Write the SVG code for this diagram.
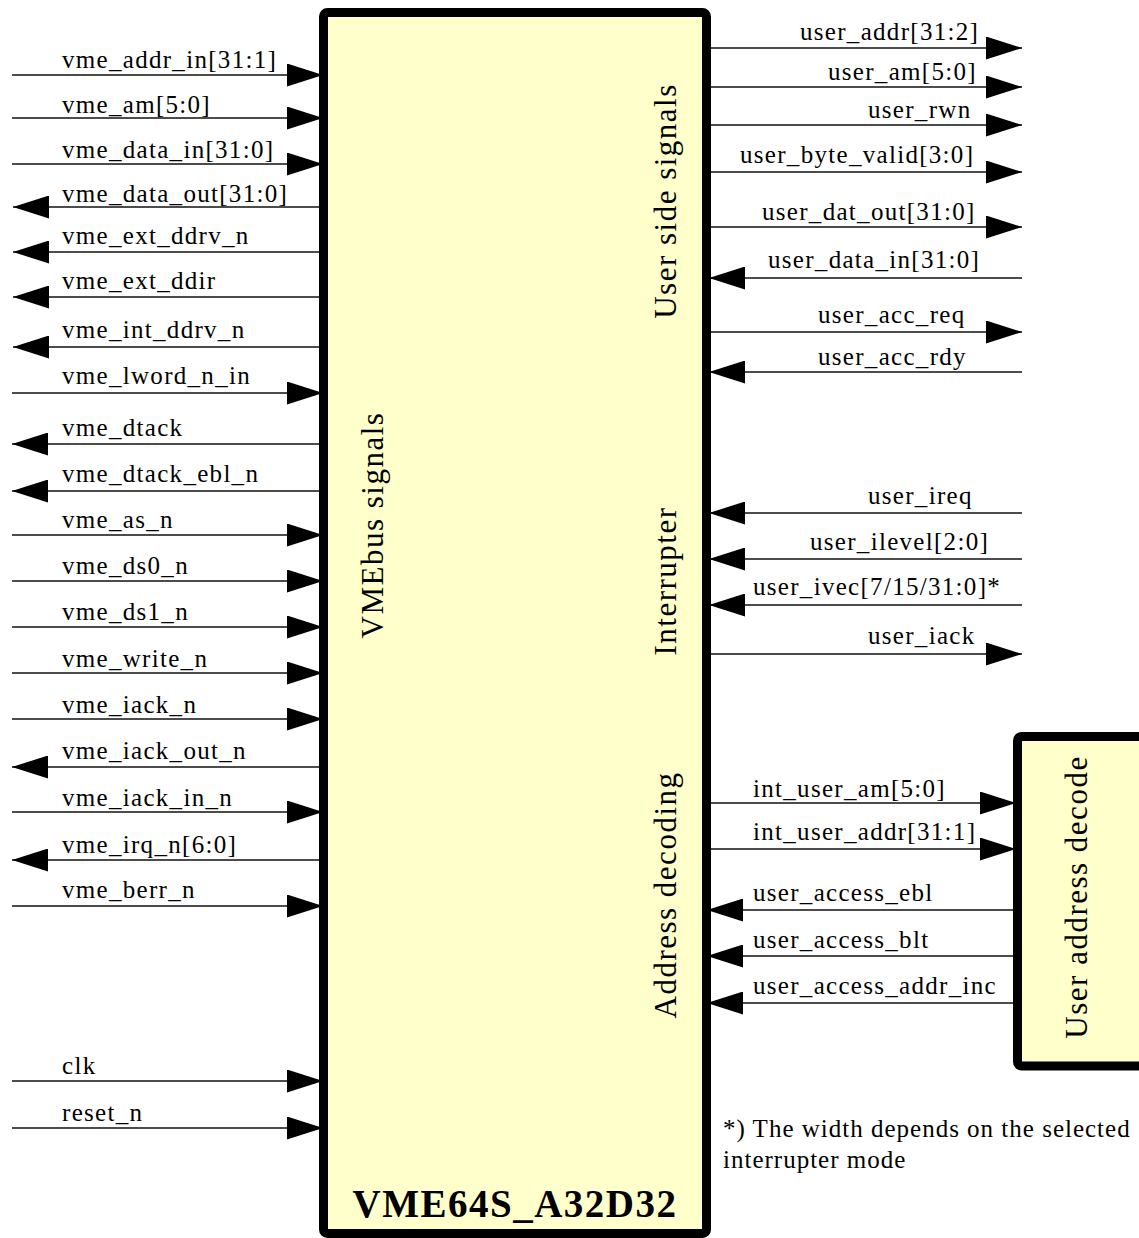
<svg xmlns="http://www.w3.org/2000/svg" width="1139" height="1238" viewBox="0 0 1139 1238">
<style>
.box{fill:#FFFFCC;stroke:#000;stroke-width:9}
.c{stroke:#111;stroke-width:1.3;fill:none;marker-end:url(#ah)}
.t{font-family:"Liberation Serif","Times New Roman",serif;font-size:25px;letter-spacing:1.3px;fill:#000}
.f{letter-spacing:1px}
.r{font-family:"Liberation Serif","Times New Roman",serif;font-size:31px;letter-spacing:1.5px;fill:#000;text-anchor:middle}
.b{font-family:"Liberation Serif","Times New Roman",serif;font-size:39px;font-weight:bold;letter-spacing:1.5px;fill:#000;text-anchor:middle}
</style>
<defs>
<marker id="ah" markerUnits="userSpaceOnUse" markerWidth="36" markerHeight="23" refX="36" refY="11.5" orient="auto" viewBox="0 0 36 23">
<path d="M0,0 L36,11.5 L0,23 z" fill="#000"/>
</marker>
</defs>
<rect width="1139" height="1238" fill="#fff"/>
<g id="connectors">
<line class="c" x1="12" y1="75" x2="323" y2="75"/>
<line class="c" x1="12" y1="118" x2="323" y2="118"/>
<line class="c" x1="12" y1="164" x2="323" y2="164"/>
<line class="c" x1="320" y1="207" x2="13" y2="207"/>
<line class="c" x1="320" y1="252" x2="13" y2="252"/>
<line class="c" x1="320" y1="297" x2="13" y2="297"/>
<line class="c" x1="320" y1="347" x2="13" y2="347"/>
<line class="c" x1="12" y1="393" x2="323" y2="393"/>
<line class="c" x1="320" y1="444" x2="12" y2="444"/>
<line class="c" x1="320" y1="491" x2="12" y2="491"/>
<line class="c" x1="12" y1="535" x2="323" y2="535"/>
<line class="c" x1="12" y1="581" x2="323" y2="581"/>
<line class="c" x1="12" y1="627" x2="323" y2="627"/>
<line class="c" x1="12" y1="673" x2="323" y2="673"/>
<line class="c" x1="12" y1="719" x2="323" y2="719"/>
<line class="c" x1="320" y1="767" x2="12" y2="767"/>
<line class="c" x1="12" y1="812" x2="323" y2="812"/>
<line class="c" x1="320" y1="860" x2="12" y2="860"/>
<line class="c" x1="12" y1="906" x2="323" y2="906"/>
<line class="c" x1="12" y1="1081" x2="323" y2="1081"/>
<line class="c" x1="12" y1="1128" x2="323" y2="1128"/>

<line class="c" x1="707" y1="48" x2="1022" y2="48"/>
<line class="c" x1="707" y1="87" x2="1022" y2="87"/>
<line class="c" x1="707" y1="125" x2="1022" y2="125"/>
<line class="c" x1="707" y1="172" x2="1022" y2="172"/>
<line class="c" x1="707" y1="227" x2="1022" y2="227"/>
<line class="c" x1="1022" y1="278" x2="709" y2="278"/>
<line class="c" x1="707" y1="332" x2="1022" y2="332"/>
<line class="c" x1="1022" y1="372" x2="709" y2="372"/>
<line class="c" x1="1022" y1="513" x2="709" y2="513"/>
<line class="c" x1="1022" y1="559" x2="709" y2="559"/>
<line class="c" x1="1022" y1="605" x2="709" y2="605"/>
<line class="c" x1="707" y1="654" x2="1022" y2="654"/>

<line class="c" x1="707" y1="803" x2="1016" y2="803"/>
<line class="c" x1="707" y1="849" x2="1016" y2="849"/>
<line class="c" x1="1014" y1="910" x2="707" y2="910"/>
<line class="c" x1="1014" y1="956" x2="707" y2="956"/>
<line class="c" x1="1014" y1="1003" x2="707" y2="1003"/>
</g>
<g id="connector-labels">
<text class="t" x="62" y="68">vme_addr_in[31:1]</text>
<text class="t" x="62" y="113">vme_am[5:0]</text>
<text class="t" x="62" y="158">vme_data_in[31:0]</text>
<text class="t" x="62" y="202">vme_data_out[31:0]</text>
<text class="t" x="62" y="244">vme_ext_ddrv_n</text>
<text class="t" x="62" y="289">vme_ext_ddir</text>
<text class="t" x="62" y="338">vme_int_ddrv_n</text>
<text class="t" x="62" y="384">vme_lword_n_in</text>
<text class="t" x="62" y="436">vme_dtack</text>
<text class="t" x="62" y="482">vme_dtack_ebl_n</text>
<text class="t" x="62" y="528">vme_as_n</text>
<text class="t" x="62" y="574">vme_ds0_n</text>
<text class="t" x="62" y="620">vme_ds1_n</text>
<text class="t" x="62" y="667">vme_write_n</text>
<text class="t" x="62" y="713">vme_iack_n</text>
<text class="t" x="62" y="759">vme_iack_out_n</text>
<text class="t" x="62" y="806">vme_iack_in_n</text>
<text class="t" x="62" y="853">vme_irq_n[6:0]</text>
<text class="t" x="62" y="898">vme_berr_n</text>
<text class="t" x="62" y="1074">clk</text>
<text class="t" x="62" y="1121">reset_n</text>

<text class="t" x="800" y="40">user_addr[31:2]</text>
<text class="t" x="828" y="80">user_am[5:0]</text>
<text class="t" x="868" y="118">user_rwn</text>
<text class="t" x="740" y="163">user_byte_valid[3:0]</text>
<text class="t" x="762" y="220">user_dat_out[31:0]</text>
<text class="t" x="768" y="268">user_data_in[31:0]</text>
<text class="t" x="818" y="323">user_acc_req</text>
<text class="t" x="818" y="365">user_acc_rdy</text>
<text class="t" x="868" y="504">user_ireq</text>
<text class="t" x="810" y="550">user_ilevel[2:0]</text>
<text class="t" x="753" y="595">user_ivec[7/15/31:0]*</text>
<text class="t" x="868" y="644">user_iack</text>

<text class="t" x="753" y="797">int_user_am[5:0]</text>
<text class="t" x="753" y="840">int_user_addr[31:1]</text>
<text class="t" x="753" y="901">user_access_ebl</text>
<text class="t" x="753" y="948">user_access_blt</text>
<text class="t" x="753" y="994">user_access_addr_inc</text>
</g>
<g id="vme64s_a32d32">
<rect class="box" x="323.5" y="12.5" width="383" height="1221" rx="4"/>
<text class="r" transform="translate(383,525) rotate(-90)">VMEbus signals</text>
<text class="r" transform="translate(676,201) rotate(-90)">User side signals</text>
<text class="r" transform="translate(676,581) rotate(-90)">Interrupter</text>
<text class="r" transform="translate(676,895) rotate(-90)">Address decoding</text>
<text class="b" x="515" y="1217">VME64S_A32D32</text>
</g>
<g id="user_address_decode">
<rect class="box" x="1017.5" y="736.5" width="200" height="329.5" rx="4"/>
<text class="r" transform="translate(1087,897) rotate(-90)">User address decode</text>
</g>
<g id="footnote">
<text class="t f" x="723" y="1137">*) The width depends on the selected</text>
<text class="t f" x="723" y="1168">interrupter mode</text>
</g>
</svg>
